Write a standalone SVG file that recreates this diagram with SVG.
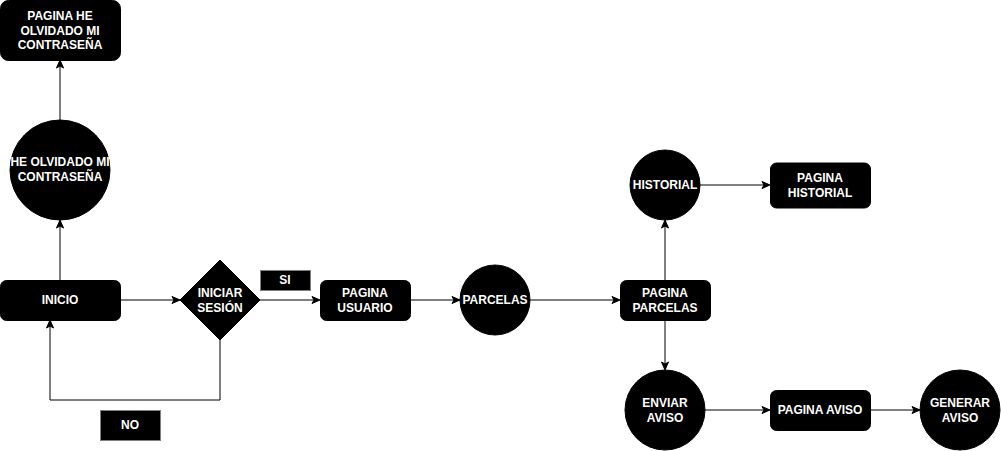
<svg xmlns="http://www.w3.org/2000/svg" width="1001" height="451" viewBox="0 0 1001 451">
<style>
.n{fill:#000;stroke:#000;stroke-width:1}
.lab{fill:#000;stroke:#808080;stroke-width:1}
.t{font-family:"Liberation Sans",Arial,sans-serif;font-size:12px;font-weight:bold;fill:#fff;text-anchor:middle}
.e{fill:none;stroke:#000;stroke-width:1}
</style>
<defs>
<marker id="a" markerWidth="10" markerHeight="10" refX="8" refY="5" orient="auto" markerUnits="userSpaceOnUse">
<path d="M1,1.5 L9,5 L1,8.5 L3,5 Z" fill="#000" stroke="#000" stroke-width="1"/>
</marker>
</defs>
<g id="connectors">
<path class="e" d="M60,120 V61" marker-end="url(#a)"/>
<path class="e" d="M60,280 V221" marker-end="url(#a)"/>
<path class="e" d="M120,300 H179" marker-end="url(#a)"/>
<path class="e" d="M260,300 H319" marker-end="url(#a)"/>
<path class="e" d="M220,340 V400 H50 V321" marker-end="url(#a)"/>
<path class="e" d="M410,300 H459" marker-end="url(#a)"/>
<path class="e" d="M530,300 H619" marker-end="url(#a)"/>
<path class="e" d="M665,280 V221" marker-end="url(#a)"/>
<path class="e" d="M665,320 V369" marker-end="url(#a)"/>
<path class="e" d="M700,185 H769" marker-end="url(#a)"/>
<path class="e" d="M705,410 H769" marker-end="url(#a)"/>
<path class="e" d="M870,410 H919" marker-end="url(#a)"/>
</g>
<g id="pagina-olvidado">
<rect class="n" x="0.5" y="0.5" width="120" height="60" rx="8"/>
<text class="t" x="60" y="20">PAGINA HE</text>
<text class="t" x="60" y="35">OLVIDADO MI</text>
<text class="t" x="60" y="49">CONTRASEÑA</text>
</g>
<g id="olvidado">
<circle class="n" cx="60" cy="170" r="50"/>
<text class="t" x="60" y="166">HE OLVIDADO MI</text>
<text class="t" x="60" y="181">CONTRASEÑA</text>
</g>
<g id="inicio">
<rect class="n" x="0.5" y="280.5" width="120" height="40" rx="6"/>
<text class="t" x="60" y="304">INICIO</text>
</g>
<g id="iniciar-sesion">
<path class="n" d="M220,260 L260,300 L220,340 L180,300 Z"/>
<text class="t" x="220" y="297">INICIAR</text>
<text class="t" x="220" y="312">SESIÓN</text>
</g>
<g id="si">
<rect class="lab" x="260.5" y="270.5" width="50" height="20"/>
<text class="t" x="285" y="284">SI</text>
</g>
<g id="no">
<rect class="lab" x="100.5" y="410.5" width="60" height="30"/>
<text class="t" x="130" y="429">NO</text>
</g>
<g id="pagina-usuario">
<rect class="n" x="320.5" y="280.5" width="90" height="40" rx="6"/>
<text class="t" x="365" y="297">PAGINA</text>
<text class="t" x="365" y="312">USUARIO</text>
</g>
<g id="parcelas">
<circle class="n" cx="495" cy="300" r="35"/>
<text class="t" x="495" y="304">PARCELAS</text>
</g>
<g id="pagina-parcelas">
<rect class="n" x="620.5" y="280.5" width="90" height="40" rx="6"/>
<text class="t" x="665" y="297">PAGINA</text>
<text class="t" x="665" y="312">PARCELAS</text>
</g>
<g id="historial">
<circle class="n" cx="665" cy="185" r="35"/>
<text class="t" x="665" y="189">HISTORIAL</text>
</g>
<g id="pagina-historial">
<rect class="n" x="770.5" y="163" width="100" height="45" rx="6"/>
<text class="t" x="820" y="182">PAGINA</text>
<text class="t" x="820" y="197">HISTORIAL</text>
</g>
<g id="enviar-aviso">
<circle class="n" cx="665" cy="410" r="40"/>
<text class="t" x="665" y="407">ENVIAR</text>
<text class="t" x="665" y="422">AVISO</text>
</g>
<g id="pagina-aviso">
<rect class="n" x="770.5" y="390.5" width="100" height="40" rx="6"/>
<text class="t" x="820" y="414">PAGINA AVISO</text>
</g>
<g id="generar-aviso">
<circle class="n" cx="960" cy="410" r="40"/>
<text class="t" x="960" y="407">GENERAR</text>
<text class="t" x="960" y="422">AVISO</text>
</g>
</svg>
